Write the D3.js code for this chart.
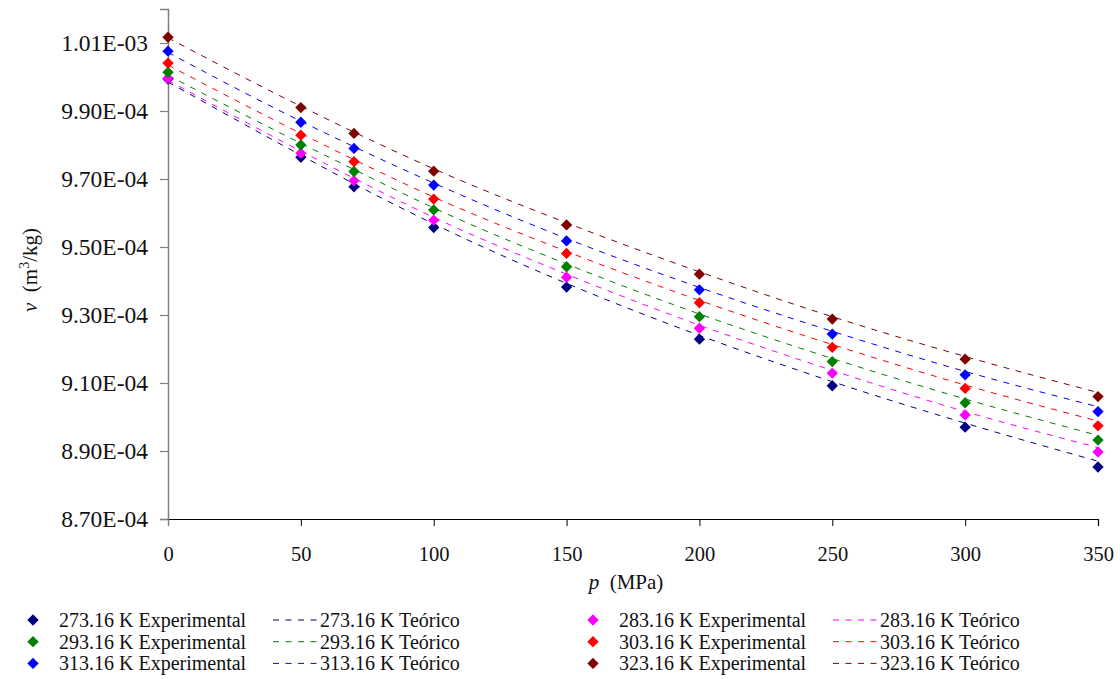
<!DOCTYPE html>
<html>
<head>
<meta charset="utf-8">
<script src="https://cdn.jsdelivr.net/npm/d3@7"></script>
<style>
  html, body { margin: 0; padding: 0; background: #fff; }
</style>
</head>
<body>
<svg id="chart" width="1120" height="679"></svg>
<script>
// ---------- data ----------
const pressures = [0, 50, 70, 100, 150, 200, 250, 300, 350]; // MPa
const temperatures = ["273.16", "283.16", "293.16", "303.16", "313.16", "323.16"];
const seriesColors = ["#000080", "#FF00FF", "#008000", "#FF0000", "#0000FF", "#800000"];

// experimental specific volumes (m3/kg)
const exp273 = [9.994e-4, 9.764e-4, 9.677e-4, 9.557e-4, 9.382e-4, 9.229e-4, 9.092e-4, 8.970e-4, 8.853e-4];
const exp283 = [9.996e-4, 9.776e-4, 9.695e-4, 9.579e-4, 9.411e-4, 9.261e-4, 9.129e-4, 9.006e-4, 8.897e-4];
const exp293 = [1.0014e-3, 9.800e-4, 9.722e-4, 9.609e-4, 9.442e-4, 9.295e-4, 9.163e-4, 9.042e-4, 8.932e-4];
const exp303 = [1.0041e-3, 9.829e-4, 9.751e-4, 9.641e-4, 9.481e-4, 9.336e-4, 9.205e-4, 9.084e-4, 8.974e-4];
const exp313 = [1.0076e-3, 9.867e-4, 9.790e-4, 9.682e-4, 9.518e-4, 9.374e-4, 9.244e-4, 9.124e-4, 9.016e-4];
const exp323 = [1.0117e-3, 9.910e-4, 9.834e-4, 9.723e-4, 9.565e-4, 9.420e-4, 9.288e-4, 9.170e-4, 9.060e-4];

// theoretical specific volumes (m3/kg)
const teo273 = [9.985e-4, 9.770e-4, 9.686e-4, 9.568e-4, 9.393e-4, 9.240e-4, 9.104e-4, 8.982e-4, 8.870e-4];
const teo283 = [9.990e-4, 9.782e-4, 9.702e-4, 9.587e-4, 9.420e-4, 9.270e-4, 9.137e-4, 9.016e-4, 8.910e-4];
const teo293 = [1.0005e-3, 9.805e-4, 9.728e-4, 9.615e-4, 9.450e-4, 9.303e-4, 9.172e-4, 9.053e-4, 8.946e-4];
const teo303 = [1.0035e-3, 9.834e-4, 9.757e-4, 9.647e-4, 9.487e-4, 9.343e-4, 9.213e-4, 9.094e-4, 8.988e-4];
const teo313 = [1.0072e-3, 9.870e-4, 9.795e-4, 9.688e-4, 9.525e-4, 9.381e-4, 9.252e-4, 9.134e-4, 9.030e-4];
const teo323 = [1.0115e-3, 9.914e-4, 9.838e-4, 9.730e-4, 9.571e-4, 9.427e-4, 9.295e-4, 9.178e-4, 9.072e-4];

const xTicks = [0, 50, 100, 150, 200, 250, 300, 350];
const yTicks = [8.7e-4, 8.9e-4, 9.1e-4, 9.3e-4, 9.5e-4, 9.7e-4, 9.9e-4, 1.01e-3];
const yTickLabels = ["8.70E-04", "8.90E-04", "9.10E-04", "9.30E-04", "9.50E-04", "9.70E-04", "9.90E-04", "1.01E-03"];

const expSeries = [exp273, exp283, exp293, exp303, exp313, exp323];
const teoSeries = [teo273, teo283, teo293, teo303, teo313, teo323];

// ---------- chart ----------
const FONT = '"Liberation Serif", "Times New Roman", serif';
const svg = d3.select("#chart");
const x = d3.scaleLinear().domain([0, 350]).range([168, 1098]);
const y = d3.scaleLinear().domain([8.7e-4, 1.02e-3]).range([519, 9]);

// y axis
const yAxis = d3.axisLeft(y).tickValues(yTicks)
  .tickFormat((d, i) => yTickLabels[i]).tickSizeOuter(0).tickSize(8).tickPadding(12);
const gy = svg.append("g").attr("transform", `translate(${x(0)},0)`).call(yAxis)
  .attr("font-family", FONT);
gy.select(".domain").attr("stroke", "#808080").attr("stroke-width", 1.5);
gy.selectAll(".tick line").attr("stroke", "#808080").attr("stroke-width", 1.2);
gy.selectAll(".tick text").attr("font-size", 23.5).attr("fill", "#111");

// x axis
const xAxis = d3.axisBottom(x).tickValues(xTicks).tickFormat(d3.format("d"))
  .tickSizeOuter(0).tickSize(7).tickPadding(20);
const gx = svg.append("g").attr("transform", `translate(0,${y(8.7e-4)})`).call(xAxis)
  .attr("font-family", FONT);
gx.select(".domain").attr("stroke", "#000").attr("stroke-width", 1.2);
gx.selectAll(".tick line").attr("stroke", "#000");
gx.selectAll(".tick text").attr("font-size", 20.5).attr("fill", "#111");
gx.select(".tick line").attr("stroke", "#808080");

// theoretical dashed curves
const line = d3.line().x((d, i) => x(pressures[i])).y(d => y(d)).curve(d3.curveMonotoneX);
teoSeries.forEach((s, k) => {
  svg.append("path").datum(s)
    .attr("d", line)
    .attr("fill", "none")
    .attr("stroke", seriesColors[k])
    .attr("stroke-width", 1)
    .attr("stroke-dasharray", "6,6.5");
});

// experimental diamonds
const diamond = d3.symbol().type(d3.symbolSquare).size(64);
expSeries.forEach((s, k) => {
  svg.append("g").selectAll("path").data(s).join("path")
    .attr("d", diamond)
    .attr("transform", (d, i) => `translate(${x(pressures[i])},${y(d)}) rotate(45)`)
    .attr("fill", seriesColors[k]);
});

// axis titles
const yt = svg.append("text")
  .attr("transform", `translate(37,270) rotate(-90)`)
  .attr("text-anchor", "middle")
  .attr("font-family", FONT)
  .attr("font-size", 21).attr("fill", "#111");
yt.append("tspan").attr("font-style", "italic").text("v");
yt.append("tspan").text("\u00a0 (m");
yt.append("tspan").attr("font-size", 14).attr("dy", -8).text("3");
yt.append("tspan").attr("dy", 8).text("/kg)");

const xt = svg.append("text")
  .attr("x", 626).attr("y", 589)
  .attr("text-anchor", "middle")
  .attr("font-family", FONT)
  .attr("font-size", 21).attr("fill", "#111");
xt.append("tspan").attr("font-style", "italic").text("p");
xt.append("tspan").text("\u00a0 (MPa)");

// legend
const legendOrder = [0, 1, 2, 3, 4, 5];
const legend = svg.append("g").attr("font-size", 20).attr("fill", "#111")
  .attr("font-family", FONT);
legendOrder.forEach((k, idx) => {
  const col = idx % 2;
  const row = Math.floor(idx / 2);
  const ox = col === 0 ? 0 : 560;
  const by = 627 + row * 21.7;
  const cy = by - 7;
  legend.append("path").attr("d", diamond)
    .attr("transform", `translate(${33 + ox},${cy}) rotate(45)`)
    .attr("fill", seriesColors[k]);
  legend.append("text").attr("x", 59 + ox).attr("y", by)
    .text(`${temperatures[k]} K Experimental`);
  legend.append("line")
    .attr("x1", 273 + ox).attr("x2", 318 + ox)
    .attr("y1", cy).attr("y2", cy)
    .attr("stroke", seriesColors[k]).attr("stroke-width", 1)
    .attr("stroke-dasharray", "6,6.5");
  legend.append("text").attr("x", 320 + ox).attr("y", by)
    .text(`${temperatures[k]} K Teórico`);
});
</script>
</body>
</html>
